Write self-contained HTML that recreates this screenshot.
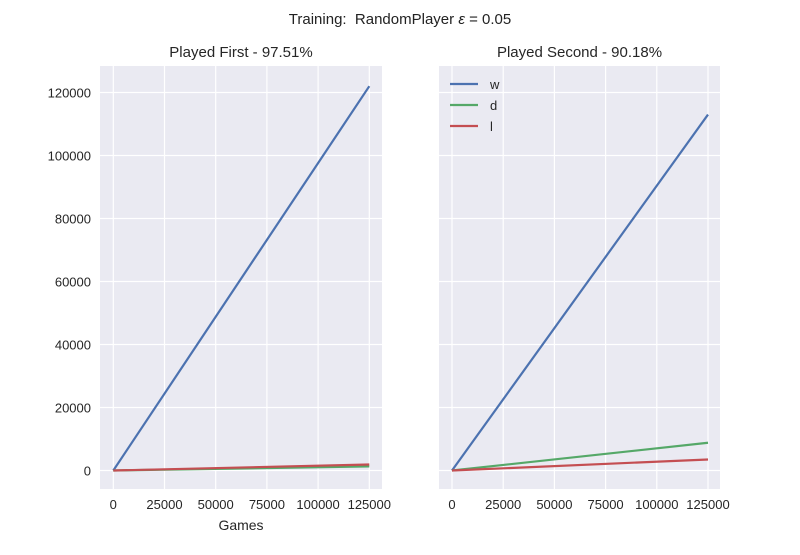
<!DOCTYPE html>
<html><head><meta charset="utf-8"><style>
body{margin:0;background:#fff;}
svg{font-family:"Liberation Sans",sans-serif;}
</style></head><body>
<svg id="c" width="800" height="550" xmlns="http://www.w3.org/2000/svg">
<text x="400" y="24" text-anchor="middle" font-size="15" fill="#222">Training:&#160; RandomPlayer <tspan font-style="italic">ε</tspan> = 0.05</text>
</svg>
<script>
const xTicks=[0,25000,50000,75000,100000,125000];
const yTicks=[0,20000,40000,60000,80000,100000,120000];
const seriesNames=['w','d','l'];
const colors=['#4c72b0','#55a868','#c44e52'];
const gamesX=[0,125000];
const firstW=[0,122000], firstD=[0,1300], firstL=[0,1900];
const secondW=[0,113000], secondD=[0,8800], secondL=[0,3500];
const panels=[
 {name:'played-first',title:'Played First - 97.51%',x0:100,x1:382,zx:113.3,series:[firstW,firstD,firstL],ylabels:true,xlabel:true,legend:false},
 {name:'played-second',title:'Played Second - 90.18%',x0:439,x1:720,zx:452,series:[secondW,secondD,secondL],ylabels:false,xlabel:false,legend:true}
];
const svgEl=document.getElementById('c');
const NS='http://www.w3.org/2000/svg';
function mk(t,a,p){const e=document.createElementNS(NS,t);for(const k in a)e.setAttribute(k,a[k]);(p||svgEl).appendChild(e);return e;}
const plotTop=66,plotBot=489;
const sy=v=>470.5-v*63/20000;
panels.forEach(p=>{
 const sx=v=>p.zx+v*256/125000;
 const g=mk('g',{});
 
 
 const bg=mk('rect',{x:p.x0,y:plotTop,width:p.x1-p.x0,height:plotBot-plotTop,fill:'#eaeaf2'},g);
 
 
 xTicks.forEach(t=>{
  const l=mk('line',{x1:sx(t),x2:sx(t),y1:plotTop,y2:plotBot,stroke:'#fff','stroke-width':1.2},g);
  
  
  const tx=mk('text',{x:sx(t),y:509,'text-anchor':'middle','font-size':13,fill:'#262626'},g);
  tx.textContent=t;
  
  
 });
 yTicks.forEach(t=>{
  const l=mk('line',{x1:p.x0,x2:p.x1,y1:sy(t),y2:sy(t),stroke:'#fff','stroke-width':1.2},g);
  
  
  if(p.ylabels){
   const tx=mk('text',{x:p.x0-9,y:sy(t)+5,'text-anchor':'end','font-size':13,fill:'#262626'},g);
   tx.textContent=t;
   
   
  }
 });
 const tt=mk('text',{x:(p.x0+p.x1)/2,y:57,'text-anchor':'middle','font-size':15,fill:'#262626'},g);
 tt.textContent=p.title;
 
 
 if(p.xlabel){
  const xl=mk('text',{x:(p.x0+p.x1)/2,y:530,'text-anchor':'middle','font-size':14,fill:'#262626'},g);
  xl.textContent='Games';
  
  
 }
 p.series.forEach((s,i)=>{
  const pts=s.map((v,j)=>sx(gamesX[j])+','+sy(v)).join(' ');
  const pl=mk('polyline',{points:pts,fill:'none',stroke:colors[i],'stroke-width':2.2},g);
  
  
 });
 if(p.legend){
  seriesNames.forEach((n,i)=>{
   const y=84+i*21;
   const ll=mk('line',{x1:450,x2:478,y1:y,y2:y,stroke:colors[i],'stroke-width':2.2},g);
   
   
   const lt=mk('text',{x:490,y:y+5,'font-size':13,fill:'#262626'},g);
   lt.textContent=n;
   
   
  });
 }
});
</script>
</body></html>
